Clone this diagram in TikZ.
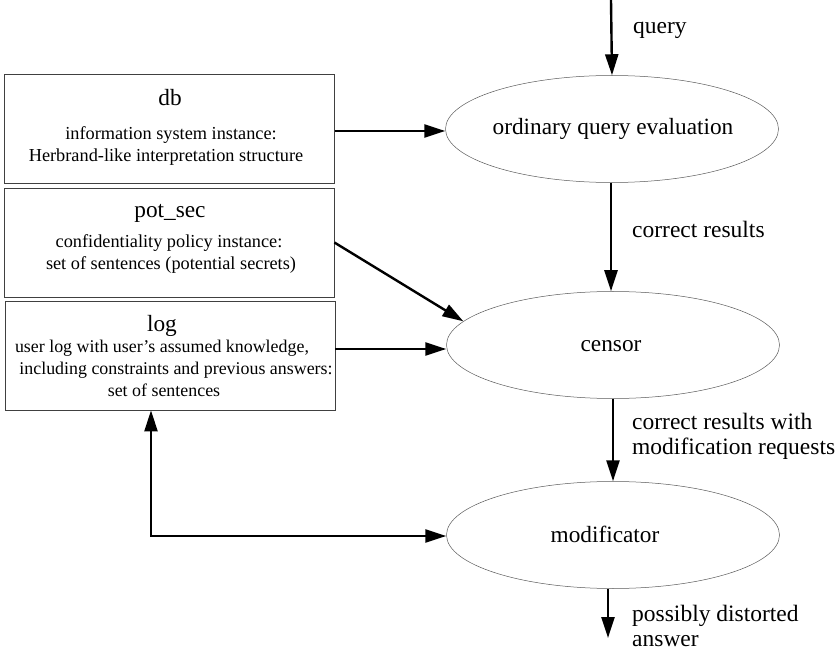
\documentclass[tikz,border=0pt]{standalone}
\usepackage{fontspec}
\setmainfont{Liberation Serif}
\usetikzlibrary{arrows.meta,shapes.geometric}

\begin{document}
\begin{tikzpicture}[x=1pt,y=-1pt,
  store/.style={rectangle, draw=black!75, line width=0.8pt, inner sep=0pt,
                minimum width=330pt, minimum height=109pt},
  proc/.style={ellipse, draw=black!65, line width=0.5pt, inner sep=0pt,
               minimum width=333pt, minimum height=107pt},
  big/.style={font=\fontsize{23.3}{26}\selectfont, inner sep=0pt, anchor=base},
  small/.style={font=\fontsize{18.3}{22}\selectfont, inner sep=0pt, anchor=base},
  smaller/.style={small, font=\fontsize{17.9}{22}\selectfont},
  lab/.style={font=\fontsize{23.5}{26}\selectfont, inner sep=0pt, anchor=base west},
  tip/.tip={Triangle[length=21pt,width=13pt]},
  flow/.style={line width=2.4pt, -tip},
  twoway/.style={line width=2.4pt, tip-tip}
]
\useasboundingbox (0,0) rectangle (839,655);

% data stores on the left
\node[store] (db) at (169.5,128.5) {};
\node[big]   (dbt)  at (170,106) {db};
\node[small] (dbd1) at (171,140) {information system instance:};
\node[small] (dbd2) at (166,162) {Herbrand-like interpretation structure};

\node[store] (pot) at (169,242.5) {};
\node[big]   (pott)  at (170,218) {pot\_sec};
\node[small] (potd1) at (169,248) {confidentiality policy instance:};
\node[small] (potd2) at (171,270) {set of sentences (potential secrets)};

\node[store] (log) at (170,355.5) {};
\node[big]     (logt)  at (162,332) {log};
\node[smaller] (logd1) at (162,353) {user log with user's assumed knowledge,};
\node[smaller] (logd2) at (176,375) {including constraints and previous answers:};
\node[smaller] (logd3) at (164,396) {set of sentences};

% processing stages
\node[proc] (ord) at (612,129) {};
\node[proc] (cen) at (613,345) {};
\node[proc] (mod) at (613,535) {};
\node[big] (ordt) at (613,135) {ordinary query evaluation};
\node[big] (cent) at (611,352) {censor};
\node[big] (modt) at (605,542) {modificator};

% external ends
\coordinate (qin)  at (611,0);
\coordinate (qout) at (608,638);
\coordinate (bend) at (151,536);

% connectors
\draw[flow] (qin) -- (ord.north);
\draw[flow] (db.east |- 0,131) -- (ord.west |- 0,131);
\draw[flow] (ord.south -| qin) -- (cen.north -| qin);
\draw[flow] (pot.east) -- (cen.171);
\draw[flow] (log.east |- 0,349) -- (cen.west |- 0,349);
\draw[flow] (cen.south) -- (mod.north);
\draw[flow] (mod.south -| qout) -- (qout);
\draw[twoway] (log.south -| bend) -- (bend) -- (bend -| mod.west);

% connector labels
\node[lab] (lq)   at (633,34)  {query};
\node[lab] (lcr)  at (632,238) {correct results};
\node[lab] (lmr1) at (632,429) {correct results with};
\node[lab] (lmr2) at (632,454) {modification requests};
\node[lab] (lda1) at (632,621) {possibly distorted};
\node[lab] (lda2) at (632,646) {answer};
\end{tikzpicture}
\end{document}
